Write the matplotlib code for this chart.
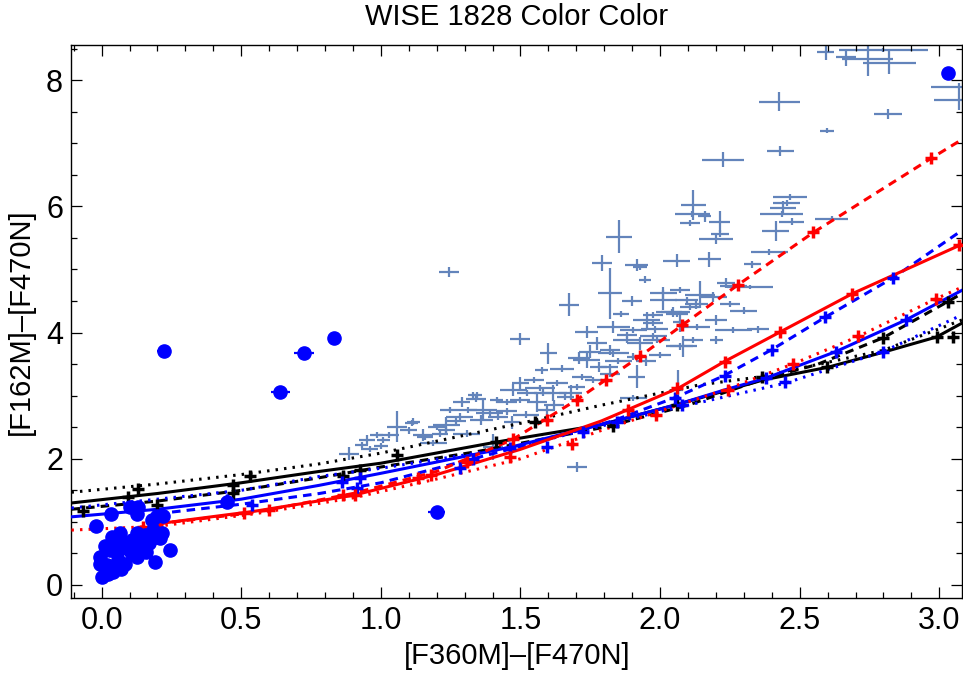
import numpy as np
import matplotlib.pyplot as plt
from matplotlib.ticker import MultipleLocator

plt.rcParams['font.family'] = ['Liberation Sans', 'DejaVu Sans']

# observed sources with error bars (x, y, xerr, yerr)
obs_x = [2.593, 2.665, 2.743, 2.821, 2.80, 3.07, 3.07, 2.427, 2.817, 2.598, 2.43, 2.226,
         2.119, 2.116, 2.107, 2.16, 2.214, 2.214, 2.20, 2.465, 2.453, 2.44, 2.435, 2.471,
         2.414, 2.614, 2.391, 2.33, 2.06, 2.176, 2.236, 2.322, 1.946, 1.928, 2.012, 2.07,
         2.143, 2.19, 2.107, 2.047, 1.975,
         1.916, 2.262, 2.095, 2.041, 2.071, 1.976, 1.904, 2.131, 2.262, 2.202, 2.083, 1.976,
         1.88, 1.82, 1.904, 1.916, 1.82, 2.065, 1.904,
         1.244, 1.853, 1.793, 1.821, 1.674, 1.498, 1.60, 1.737, 1.773, 1.737, 1.648, 1.576,
         1.833, 1.88, 1.952, 2.012, 1.928, 1.988, 2.07, 2.119, 1.833, 1.701, 1.617, 1.569,
         1.522, 1.474, 1.498, 1.558, 1.594, 1.415, 1.367, 1.313, 1.343, 1.247, 1.283, 1.235,
         1.152, 1.057, 1.11, 1.009, 1.188, 1.212, 1.307, 1.39, 1.45, 1.402, 1.701, 1.821,
         1.761, 2.06, 2.13,
         0.887, 0.931, 0.985, 1.116, 1.158, 1.235, 1.331, 0.96,
         1.36, 1.42, 1.47, 1.52, 1.62, 1.66, 1.68, 1.72, 1.78, 1.63, 1.55, 1.50,
         1.45, 1.27, 1.20, 1.10, 1.00, 0.95, 1.03, 1.75, 1.85, 1.95, 2.00, 1.98,
         2.20, 2.25, 2.30, 1.90, 1.86, 2.35, 1.29, 1.34, 1.58, 1.71]
obs_y = [8.44, 8.36, 8.33, 8.28, 8.48, 7.90, 7.69, 7.66, 7.47, 7.20, 6.88, 6.74,
         6.02, 5.88, 5.74, 5.84, 5.76, 5.57, 5.49, 6.15, 6.05, 5.98, 5.88, 5.76,
         5.61, 5.80, 5.28, 5.08, 5.14, 5.16, 4.79, 4.72, 4.84, 5.04, 4.62, 4.68,
         4.60, 4.57, 4.41, 4.33, 4.28,
         5.07, 4.74, 4.52, 4.33, 4.17, 4.15, 4.04, 4.09, 4.04, 3.88, 3.78, 3.94,
         3.88, 3.72, 3.62, 3.30, 3.46, 3.09, 2.96,
         4.96, 5.52, 5.10, 4.62, 4.44, 3.90, 3.67, 4.01, 3.83, 3.57, 3.43, 3.40,
         4.09, 3.96, 4.20, 4.52, 3.83, 3.88, 3.78, 3.88, 3.67, 3.14, 3.04, 3.12,
         3.04, 3.09, 2.93, 2.90, 2.77, 2.93, 2.77, 2.77, 3.01, 2.77, 2.67, 2.54,
         2.38, 2.51, 2.57, 2.30, 2.25, 2.40, 2.40, 2.72, 2.75, 2.19, 1.87, 3.35,
         3.25, 4.30, 4.46,
         2.08, 2.22, 2.38, 2.59, 2.35, 2.45, 3.01, 2.15,
         2.62, 2.66, 2.58, 2.70, 2.85, 2.98, 3.05, 3.30, 3.45, 3.20, 3.25, 3.20,
         2.90, 2.60, 2.50, 2.45, 2.20, 2.30, 2.38, 3.70, 3.55, 3.55, 3.65, 4.05,
         4.20, 4.45, 4.35, 4.50, 4.30, 4.05, 2.90, 2.95, 3.05, 3.60]
obs_xerr = [0.030, 0.036, 0.090, 0.095, 0.160, 0.100, 0.090, 0.074, 0.050, 0.026, 0.048, 0.075,
            0.045, 0.062, 0.036, 0.024, 0.038, 0.033, 0.060, 0.060, 0.048, 0.048, 0.078, 0.045,
            0.048, 0.060, 0.066, 0.030, 0.048, 0.042, 0.033, 0.084, 0.022, 0.024, 0.048, 0.036,
            0.054, 0.048, 0.036, 0.060, 0.036,
            0.042, 0.048, 0.040, 0.036, 0.024, 0.036, 0.048, 0.048, 0.066, 0.024, 0.048, 0.048,
            0.048, 0.036, 0.024, 0.030, 0.030, 0.018, 0.048,
            0.036, 0.048, 0.036, 0.042, 0.036, 0.036, 0.030, 0.042, 0.036, 0.048, 0.042, 0.024,
            0.060, 0.036, 0.048, 0.048, 0.048, 0.048, 0.048, 0.036, 0.054, 0.030, 0.048, 0.054,
            0.036, 0.048, 0.036, 0.036, 0.030, 0.024, 0.048, 0.030, 0.018, 0.036, 0.048, 0.048,
            0.036, 0.036, 0.024, 0.024, 0.048, 0.030, 0.048, 0.048, 0.036, 0.036, 0.036, 0.036,
            0.030, 0.040, 0.040,
            0.036, 0.024, 0.024, 0.024, 0.030, 0.030, 0.018, 0.030,
            0.040, 0.036, 0.030, 0.048, 0.036, 0.030, 0.042, 0.036, 0.030, 0.040, 0.036, 0.030,
            0.036, 0.036, 0.030, 0.030, 0.024, 0.030, 0.036, 0.040, 0.048, 0.036, 0.040, 0.048,
            0.040, 0.036, 0.048, 0.036, 0.030, 0.040, 0.030, 0.036, 0.030, 0.040]
obs_yerr = [0.116, 0.130, 0.260, 0.180, 0.030, 0.050, 0.160, 0.150, 0.080, 0.040, 0.080, 0.120,
            0.240, 0.050, 0.050, 0.080, 0.160, 0.050, 0.080, 0.050, 0.050, 0.100, 0.050, 0.050,
            0.160, 0.050, 0.050, 0.050, 0.100, 0.120, 0.080, 0.030, 0.050, 0.050, 0.100, 0.050,
            0.210, 0.080, 0.050, 0.080, 0.050,
            0.100, 0.050, 0.050, 0.050, 0.160, 0.050, 0.050, 0.050, 0.050, 0.060, 0.160, 0.050,
            0.050, 0.080, 0.050, 0.180, 0.050, 0.320, 0.050,
            0.080, 0.260, 0.130, 0.400, 0.180, 0.100, 0.160, 0.100, 0.100, 0.130, 0.050, 0.050,
            0.100, 0.050, 0.130, 0.160, 0.100, 0.050, 0.050, 0.050, 0.050, 0.050, 0.130, 0.050,
            0.050, 0.100, 0.050, 0.160, 0.100, 0.050, 0.160, 0.050, 0.050, 0.050, 0.050, 0.130,
            0.100, 0.240, 0.050, 0.050, 0.050, 0.050, 0.050, 0.050, 0.050, 0.210, 0.080, 0.050,
            0.050, 0.050, 0.080,
            0.100, 0.050, 0.050, 0.050, 0.050, 0.050, 0.050, 0.050,
            0.080, 0.050, 0.100, 0.050, 0.080, 0.050, 0.120, 0.050, 0.080, 0.050, 0.050, 0.100,
            0.050, 0.080, 0.050, 0.050, 0.050, 0.080, 0.050, 0.100, 0.050, 0.080, 0.050, 0.050,
            0.080, 0.050, 0.050, 0.080, 0.050, 0.050, 0.080, 0.050, 0.050, 0.100]

# blue points (x, y)
dot_x = [-0.02, 0.032, 0.10, 0.13, 0.125, 0.18, 0.20, 0.22, 0.45, 0.036, 0.066, 0.012, 0.04,
         0.08, 0.11, 0.125, 0.155, 0.17, 0.185, 0.20, 0.215, 0.16, 0.125, 0.084, 0.107, 0.054,
         -0.006, -0.004, 0.018, 0.042, 0.024, 0.0, 0.19, 0.245, 0.21, 0.09, 0.14, 0.06, 0.15,
         0.03, 0.11, 0.07,
         0.223, 0.64, 0.725, 0.834, 1.20, 3.03]
dot_y = [0.93, 1.12, 1.23, 1.23, 1.13, 1.03, 1.10, 1.10, 1.32, 0.76, 0.82, 0.61, 0.63,
         0.66, 0.71, 0.82, 0.79, 0.66, 0.87, 0.76, 0.82, 0.53, 0.45, 0.34, 0.53, 0.50,
         0.45, 0.34, 0.32, 0.21, 0.18, 0.12, 0.36, 0.55, 0.75, 0.58, 0.62, 0.40, 0.70,
         0.55, 0.50, 0.26,
         3.71, 3.06, 3.68, 3.91, 1.16, 8.12]
dot_xerr = [0.02] * 42 + [0.024, 0.035, 0.035, 0.02, 0.03, 0.02]

# model tracks
blk_solid_x = [-0.108, 0.2, 0.5, 0.78, 1.0, 1.42, 1.79, 2.06, 2.37, 2.6, 2.8, 2.99, 3.081]
blk_solid_y = [1.30, 1.45, 1.62, 1.80, 1.93, 2.27, 2.54, 2.86, 3.25, 3.45, 3.69, 3.93, 4.15]
blk_dash_x = [-0.108, 0.2, 0.5, 0.78, 1.0, 1.34, 1.8, 2.1, 2.38, 2.56, 2.8, 3.03, 3.081]
blk_dash_y = [1.20, 1.33, 1.50, 1.70, 1.87, 2.11, 2.50, 2.85, 3.28, 3.49, 3.92, 4.49, 4.62]
blk_dot_x = [-0.108, 0.2, 0.5, 0.78, 1.0, 1.55, 1.79, 2.14, 2.36, 2.8, 3.081]
blk_dot_y = [1.47, 1.60, 1.75, 1.92, 2.09, 2.61, 2.85, 3.17, 3.30, 3.72, 4.20]

blu_solid_x = [-0.108, 0.2, 0.5, 0.78, 1.0, 1.47, 1.83, 2.06, 2.23, 2.38, 2.63, 2.88, 3.081]
blu_solid_y = [1.08, 1.20, 1.36, 1.58, 1.77, 2.19, 2.59, 2.86, 3.09, 3.28, 3.70, 4.20, 4.67]
blu_dash_x = [0.2, 0.5, 0.78, 1.0, 1.33, 1.59, 1.83, 2.06, 2.23, 2.4, 2.59, 2.835, 3.081]
blu_dash_y = [1.13, 1.28, 1.45, 1.62, 2.00, 2.30, 2.60, 2.98, 3.32, 3.73, 4.24, 4.87, 5.62]
blu_dot_x = [-0.108, 0.2, 0.5, 0.78, 1.0, 1.5, 2.0, 2.45, 2.8, 3.081]
blu_dot_y = [1.22, 1.36, 1.50, 1.72, 1.85, 2.20, 2.75, 3.20, 3.70, 4.28]

red_solid_x = [0.2, 0.55, 0.9, 1.2, 1.5, 1.79, 2.07, 2.23, 2.43, 2.69, 3.081]
red_solid_y = [0.97, 1.17, 1.42, 1.75, 2.15, 2.60, 3.13, 3.54, 4.01, 4.62, 5.40]
red_dash_x = [0.2, 0.55, 0.9, 1.2, 1.47, 1.7, 1.93, 2.08, 2.28, 2.55, 2.97, 3.081]
red_dash_y = [0.97, 1.15, 1.45, 1.80, 2.30, 2.93, 3.63, 4.12, 4.76, 5.59, 6.76, 7.06]
red_dot_x = [-0.108, 0.2, 0.55, 0.9, 1.2, 1.5, 1.79, 2.23, 2.48, 2.71, 2.99, 3.081]
red_dot_y = [0.87, 0.93, 1.13, 1.38, 1.68, 2.00, 2.45, 3.09, 3.51, 3.94, 4.54, 4.72]

# model grid points
blk_plus_x = [-0.066, 0.093, 0.13, 0.2, 0.47, 0.47, 0.53, 0.866, 0.925, 1.057, 1.414, 1.552,
              1.833, 2.06, 2.364, 2.597, 2.8, 2.991, 3.03, 3.05]
blk_plus_y = [1.18, 1.39, 1.52, 1.27, 1.58, 1.45, 1.73, 1.72, 1.83, 2.06, 2.27, 2.59,
              2.52, 2.85, 3.30, 3.45, 3.92, 3.93, 4.49, 3.93]
red_plus_x = [0.147, 0.2, 0.51, 0.6, 0.866, 0.908, 1.134, 1.18, 1.307, 1.462, 1.474, 1.594,
              1.683, 1.701, 1.808, 1.886, 1.928, 1.987, 2.059, 2.077, 2.232, 2.244, 2.278,
              2.43, 2.476, 2.547, 2.689, 2.71, 2.971, 2.989, 3.072]
red_plus_y = [0.92, 0.95, 1.14, 1.19, 1.43, 1.43, 1.69, 1.74, 1.95, 2.03, 2.32, 2.61,
              2.24, 2.93, 3.25, 2.77, 3.63, 2.69, 3.12, 4.12, 3.54, 3.09, 4.76,
              4.01, 3.51, 5.59, 4.61, 3.94, 6.76, 4.54, 5.39]
blu_plus_x = [0.448, 0.538, 0.86, 0.913, 0.925, 1.283, 1.331, 1.463, 1.594, 1.725, 1.844,
              2.053, 2.077, 2.232, 2.38, 2.4, 2.447, 2.59, 2.63, 2.8, 2.835, 2.88]
blu_plus_y = [1.34, 1.26, 1.64, 1.53, 1.69, 1.85, 2.00, 2.17, 2.19, 2.43, 2.59,
              2.96, 2.85, 3.32, 3.28, 3.73, 3.22, 4.24, 3.70, 3.70, 4.87, 4.20]

fig = plt.figure(figsize=(9.63, 6.81), dpi=100)
ax = fig.add_axes([0.0742, 0.1219, 0.9247, 0.8125])

ax.errorbar(obs_x, obs_y, xerr=obs_xerr, yerr=obs_yerr, fmt='none',
            ecolor='#6384bb', elinewidth=1.6, capsize=0, zorder=1)

lw = 2.2
ax.plot(blk_solid_x, blk_solid_y, color='black', lw=lw, zorder=3)
ax.plot(blk_dash_x, blk_dash_y, color='black', lw=lw, dashes=(2.8, 2.0), zorder=3)
ax.plot(blk_dot_x, blk_dot_y, color='black', lw=lw, dashes=(0.8, 2.0), zorder=3)
ax.plot(blu_solid_x, blu_solid_y, color='blue', lw=lw, zorder=3)
ax.plot(blu_dash_x, blu_dash_y, color='blue', lw=lw, dashes=(2.8, 2.0), zorder=3)
ax.plot(blu_dot_x, blu_dot_y, color='blue', lw=lw, dashes=(0.8, 2.0), zorder=3)
ax.plot(red_solid_x, red_solid_y, color='red', lw=lw, zorder=3)
ax.plot(red_dash_x, red_dash_y, color='red', lw=lw, dashes=(2.8, 2.0), zorder=3)
ax.plot(red_dot_x, red_dot_y, color='red', lw=lw, dashes=(0.8, 2.0), zorder=3)

ax.plot(blk_plus_x, blk_plus_y, '+', color='black', ms=9, mew=2.5, zorder=4)
ax.plot(blu_plus_x, blu_plus_y, '+', color='blue', ms=9, mew=2.5, zorder=4)
ax.plot(red_plus_x, red_plus_y, '+', color='red', ms=9, mew=2.5, zorder=4)

ax.errorbar(dot_x, dot_y, xerr=dot_xerr, fmt='o', color='blue', ms=9.5,
            elinewidth=1.6, capsize=0, zorder=5)

ax.set_xlim(-0.108, 3.081)
ax.set_ylim(-0.206, 8.563)
ax.xaxis.set_major_locator(MultipleLocator(0.5))
ax.xaxis.set_minor_locator(MultipleLocator(0.1))
ax.yaxis.set_major_locator(MultipleLocator(2))
ax.yaxis.set_minor_locator(MultipleLocator(0.5))
ax.xaxis.set_major_formatter(plt.FuncFormatter(lambda v, p: f"{v:.1f}"))
ax.tick_params(which='both', direction='in', top=True, right=True, width=0.9)
ax.tick_params(which='major', length=8, labelsize=22)
ax.tick_params(axis='x', which='major', pad=6)
ax.tick_params(axis='y', which='major', pad=6)
ax.tick_params(which='minor', length=4)
for s in ax.spines.values():
    s.set_linewidth(1.0)

ax.set_xlabel('[F360M]\u2013[F470N]', fontsize=21, labelpad=4)
ax.set_ylabel('[F162M]\u2013[F470N]', fontsize=21, labelpad=8)
ax.set_title('WISE 1828 Color Color', fontsize=21, pad=14)

fig.savefig('out.png', dpi=100)
